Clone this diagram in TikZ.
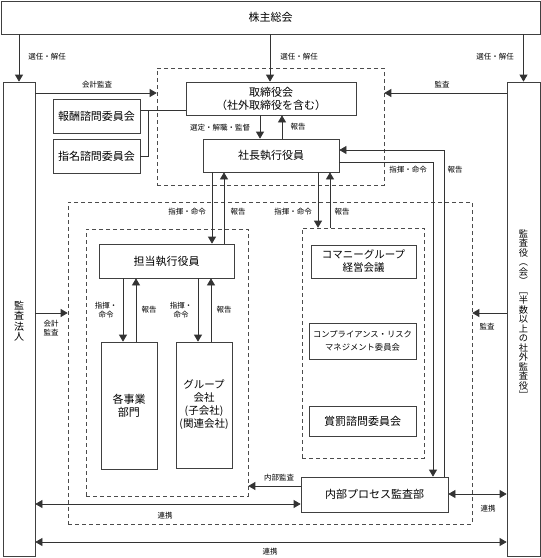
\documentclass[tikz,border=0pt]{standalone}
\usepackage{fontspec}
\setmainfont{Noto Sans CJK JP}
\usepackage{graphicx}
\usetikzlibrary{arrows.meta}
\begin{document}
\begin{tikzpicture}[x=1pt,y=-1pt,
 box/.style={draw=black!75, line width=0.7pt, fill=white, inner sep=0pt, align=center, font=\fontsize{11}{13}\selectfont},
 grp/.style={draw=black!70, line width=0.6pt, dash pattern=on 4pt off 3pt, inner sep=0pt},
 arr/.style={draw=black!80, line width=0.7pt, -{Triangle[length=7pt,width=8pt]}},
 darr/.style={draw=black!80, line width=0.7pt, {Triangle[length=7pt,width=8pt]}-{Triangle[length=7pt,width=8pt]}},
 lnk/.style={draw=black!80, line width=0.7pt},
 lbl/.style={font=\fontsize{7.5}{9}\selectfont, inner sep=0pt, align=center}]
\useasboundingbox (0,0) rectangle (541,558);

% groups
\node[grp, minimum width=227, minimum height=117] (boardgrp) at (270.5,126.5) {};
\node[grp, minimum width=404, minimum height=322] (biggrp) at (270,363) {};
\node[grp, minimum width=162, minimum height=267] (leftgrp) at (167,362.5) {};
\node[grp, minimum width=122, minimum height=230] (rightgrp) at (363,343) {};

% boxes
\node[box, minimum width=539, minimum height=33] (sokai) at (270.5,17.5) {株主総会};
\node[box, minimum width=32, minimum height=474] (hojin) at (19,319) {};
\node[font=\fontsize{10}{10.5}\selectfont, align=center, inner sep=0pt] (hojintxt) at (19,321) {監\\査\\法\\人};
\node[box, minimum width=33, minimum height=474] (kansayaku) at (523.5,319) {};
\node[font=\fontsize{9.2}{9.5}\selectfont, align=center, inner sep=0pt] (kansayakutxt) at (523.5,314)
 {監\\査\\役\\︵\\会\\︶\\﹇\\半\\数\\以\\上\\の\\社\\外\\監\\査\\役\\﹈};
\node[box, minimum width=170, minimum height=33] (tori) at (271,98.5) {取締役会\\（社外取締役を含む）};
\node[box, minimum width=87, minimum height=34] (hoshu) at (96.5,116) {報酬諮問委員会};
\node[box, minimum width=87, minimum height=34] (shimei) at (96.5,156) {指名諮問委員会};
\node[box, minimum width=136, minimum height=33] (shacho) at (271,155.5) {社長執行役員};
\node[box, minimum width=135, minimum height=34] (tanto) at (166.5,261) {担当執行役員};
\node[box, minimum width=56, minimum height=127] (kakuji) at (129,405.5) {各事業\\部門};
\node[box, minimum width=56, minimum height=126, font=\fontsize{10.5}{13}\selectfont] (group) at (204,405) {グループ\\会社\\(子会社)\\(関連会社)};
\node[box, minimum width=105, minimum height=33, font=\fontsize{10.5}{13}\selectfont] (keiei) at (363.5,261.5) {コマニーグループ\\経営会議};
\node[box, minimum width=107, minimum height=36, font=\fontsize{8.3}{13}\selectfont] (comp) at (362.5,341) {コンプライアンス・リスク\\マネジメント委員会};
\node[box, minimum width=107, minimum height=30] (shobatsu) at (362.5,421) {賞罰諮問委員会};
\node[box, minimum width=147, minimum height=35] (naibu) at (374.5,494.5) {内部プロセス監査部};

% shareholders
\draw[arr] (sokai.south -| hojin) -- (hojin.north);
\draw[arr] (sokai.south -| 270,0) -- (tori.north -| 270,0);
\draw[arr] (sokai.south -| kansayaku) -- (kansayaku.north);
\node[lbl] (l1) at (47,57) {選任・解任};
\node[lbl] (l2) at (299,57) {選任・解任};
\node[lbl] (l3) at (495,57) {選任・解任};

% audit to board
\draw[arr] (hojin.east |- 0,93) -- (boardgrp.west |- 0,93);
\node[lbl] (l4) at (97,85) {会計監査};
\draw[arr] (kansayaku.west |- 0,93) -- (boardgrp.east |- 0,93);
\node[lbl] (l5) at (442,85) {監査};

% committees
\draw[lnk] (hoshu.east |- 0,110) -- (tori.west |- 0,110);
\draw[lnk] (shimei.east) -| (148,110);

% board <-> president
\draw[arr] (tori.south -| 260,0) -- (shacho.north -| 260,0);
\node[lbl] (l6) at (220,128) {選定・解職・監督};
\draw[arr] (shacho.north -| 282,0) -- (tori.south -| 282,0);
\node[lbl] (l7) at (298,127) {報告};

% president <-> internal audit
\draw[arr] (shacho.east |- 0,162) -| (naibu.north -| 433,0);
\draw[arr] (naibu.north -| 444,0) |- (shacho.east |- 0,150);
\node[lbl] (l8) at (408,170) {指揮・命令};
\node[lbl] (l9) at (455,170) {報告};

% president -> executives
\draw[arr] (shacho.south -| 212,0) -- (tanto.north -| 212,0);
\draw[arr] (tanto.north -| 224,0) -- (shacho.south -| 224,0);
\node[lbl] (l10) at (187,212) {指揮・命令};
\node[lbl] (l11) at (238,212) {報告};
\draw[arr] (shacho.south -| 318,0) -- (rightgrp.north -| 318,0);
\draw[arr] (rightgrp.north -| 330,0) -- (shacho.south -| 330,0);
\node[lbl] (l12) at (293,212) {指揮・命令};
\node[lbl] (l13) at (342,212) {報告};

% executives -> divisions
\draw[arr] (tanto.south -| 123,0) -- (kakuji.north -| 123,0);
\draw[arr] (kakuji.north -| 136,0) -- (tanto.south -| 136,0);
\node[lbl] (l14) at (106,310) {指揮・\\命令};
\node[lbl] (l15) at (149,310) {報告};
\draw[arr] (tanto.south -| 198,0) -- (group.north -| 198,0);
\draw[arr] (group.north -| 211,0) -- (tanto.south -| 211,0);
\node[lbl] (l16) at (181,310) {指揮・\\命令};
\node[lbl] (l17) at (224,310) {報告};

% audits to operations
\draw[arr] (hojin.east |- 0,313) -- (biggrp.west |- 0,313);
\node[lbl] (l18) at (51,328) {会計\\監査};
\draw[arr] (kansayaku.west |- 0,313) -- (biggrp.east |- 0,313);
\node[lbl] (l19) at (487,327) {監査};
\draw[arr] (naibu.west |- 0,486) -- (leftgrp.east |- 0,486);
\node[lbl] (l20) at (279,478) {内部監査};

% cooperation
\draw[darr] (hojin.east |- 0,504) -- (naibu.west |- 0,504);
\node[lbl] (l21) at (165,516) {連携};
\draw[darr] (naibu.east |- 0,494) -- (kansayaku.west |- 0,494);
\node[lbl] (l22) at (488,509) {連携};
\draw[darr] (hojin.east |- 0,542) -- (kansayaku.west |- 0,542);
\node[lbl] (l23) at (270,552) {連携};
\end{tikzpicture}
\end{document}
